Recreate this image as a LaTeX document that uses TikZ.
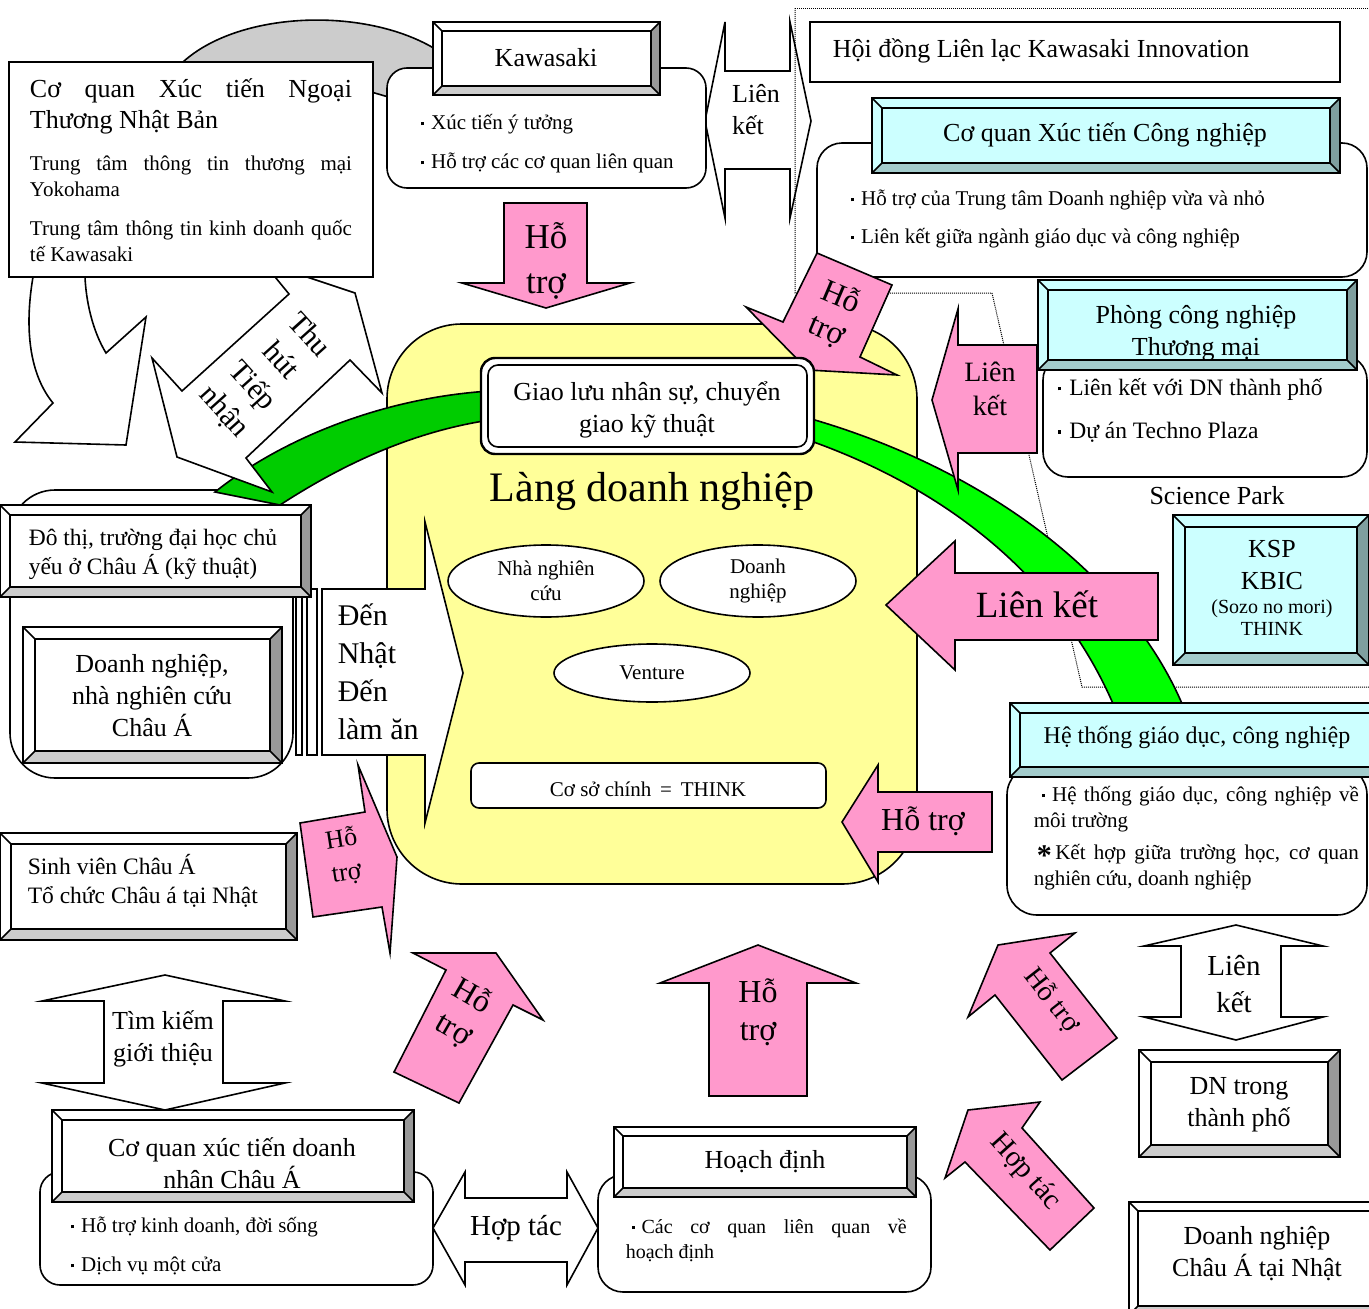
\documentclass[tikz,border=0pt]{standalone}
\usepackage{fontspec}
\setmainfont{Liberation Serif}
\usepackage{xcolor}
\usepackage{tikz}
\usetikzlibrary{shapes.geometric, positioning}

\definecolor{pinkfill}{HTML}{FF99CC}
\definecolor{yellowfill}{HTML}{FFFF99}
\definecolor{crescent}{HTML}{CCCCCC}
\definecolor{greendark}{HTML}{00CC00}
\definecolor{greenlight}{HTML}{00FF00}
\definecolor{wface}{HTML}{FFFFFF}
\definecolor{wtop}{HTML}{FFFFFF}
\definecolor{wleft}{HTML}{FFFFFF}
\definecolor{wright}{HTML}{999999}
\definecolor{wbot}{HTML}{CCCCCC}
\definecolor{cface}{HTML}{CCFFFF}
\definecolor{ctop}{HTML}{CCFFFF}
\definecolor{cleft}{HTML}{CCFFFF}
\definecolor{cright}{HTML}{7F9F9F}
\definecolor{cbot}{HTML}{A3CCCC}

\hyphenpenalty=10000
\tolerance=10000

\newcommand{\bul}{\rule[0.2em]{0.14em}{0.14em}\hspace{0.35em}}
\newcommand{\bigast}{\raisebox{-0.28em}{\fontsize{30}{30}\selectfont\bfseries *}}
% framed box with bevelled edges: x1, y1, x2, y2, depth, colour set
\newcommand{\bevelbox}[6]{%
  \fill[#6top] (#1,#2) -- (#3,#2) -- (#3-#5,#2+#5) -- (#1+#5,#2+#5) -- cycle;
  \fill[#6left] (#1,#2) -- (#1+#5,#2+#5) -- (#1+#5,#4-#5) -- (#1,#4) -- cycle;
  \fill[#6right] (#3,#2) -- (#3-#5,#2+#5) -- (#3-#5,#4-#5) -- (#3,#4) -- cycle;
  \fill[#6bot] (#1,#4) -- (#1+#5,#4-#5) -- (#3-#5,#4-#5) -- (#3,#4) -- cycle;
  \filldraw[fill=#6face] (#1+#5,#2+#5) rectangle (#3-#5,#4-#5);
  \draw (#1,#2) rectangle (#3,#4)
        (#1,#2) -- (#1+#5,#2+#5) (#3,#2) -- (#3-#5,#2+#5)
        (#1,#4) -- (#1+#5,#4-#5) (#3,#4) -- (#3-#5,#4-#5);
}

\begin{document}
\begin{tikzpicture}[x=1pt, y=-1pt, line width=1.6pt, every node/.style={inner sep=0pt}]
    \tikzset{fsz/.style args={#1/#2}{font=\fontsize{#1}{#2}\selectfont}}
    \tikzstyle{pinkarrow} = [draw, fill=pinkfill]
    \tikzstyle{whitearrow} = [draw, fill=white]
    \tikzstyle{roundbox} = [draw, fill=white, rounded corners=20]
    \tikzstyle{oval} = [ellipse, draw, fill=white, minimum width=196, align=center, fsz=21/25]

    \useasboundingbox (0,0) rectangle (1369,1309);

    % background
    \filldraw[fill=crescent] (183,62) .. controls (240,10) and (370,6) .. (440,52) -- (440,112) -- (330,80) -- cycle;
    \filldraw[fill=yellowfill, rounded corners=75] (387,324) rectangle (917,884);
    \draw[whitearrow] (705,121) -- (725,22) -- (725,71) -- (790,71) -- (790,22) -- (811,121)
        -- (790,218) -- (790,169) -- (725,169) -- (725,218) -- cycle;
    \draw[densely dotted, line width=1pt] (795,8) -- (1369,8);
    \draw[densely dotted, line width=1pt] (795,8) -- (795,293) -- (992,293) -- (1082,687) -- (1369,687);
    \draw[fill=white, rounded corners=45] (10,490) rectangle (293,778);

    % green bands
    \filldraw[fill=greendark] (490,391) .. controls (380,398) and (280,440) .. (215,492) -- (280,505)
        .. controls (340,466) and (410,432) .. (490,420) -- cycle;
    \filldraw[fill=greenlight] (808,418) .. controls (990,470) and (1130,580) .. (1183,706) -- (1114,706)
        .. controls (1060,580) and (950,490) .. (808,440) -- cycle;

    % white arrows at the top left
    \draw[whitearrow] (271,272) -- (289,294) -- (182,391) -- (152,358) -- (177,457) -- (272,492) -- (246,458)
        -- (350,360) -- (382,393) -- (355,293) -- (292,272) -- cycle;
    \node[fsz=30/38, align=center, rotate=-48] (attract) at (266,374) {Thu\\hút\\Tiếp\\nhận};
    \draw[whitearrow] (33,270) -- (33,277) .. controls (24,330) and (30,375) .. (53,403) -- (15,442) -- (126,445)
        -- (146,317) -- (106,353) .. controls (92,330) and (86,300) .. (85,277) -- (85,270) -- cycle;

    % Japan external trade
    \draw[fill=white] (9,62) rectangle (373,277);
    \node[fsz=26/31, text width=322, align=justify] (jetro) at (191,106) {Cơ quan Xúc tiến Ngoại\linebreak Thương Nhật Bản};
    \node[fsz=21/26, text width=322, align=justify] (yokohama) at (191,176) {Trung tâm thông tin thương mại\linebreak Yokohama};
    \node[fsz=21/26, text width=322, align=justify] (kibc) at (191,241) {Trung tâm thông tin kinh doanh quốc\linebreak tế Kawasaki};

    % Kawasaki
    \draw[roundbox] (387,68) rectangle (706,188);
    \bevelbox{433}{22}{660}{95}{9}{w}
    \node[fsz=26/32] (kawasaki) at (546,58) {Kawasaki};
    \node[fsz=21/26, anchor=west] (idea) at (420,124) {\bul Xúc tiến ý tưởng};
    \node[fsz=21/26, anchor=west] (related) at (420,163) {\bul Hỗ trợ các cơ quan liên quan};
    \node[fsz=26/32, align=left] (link1) at (756,110) {Liên\\kết};

    % council and industrial promotion
    \draw[fill=white] (810,22) rectangle (1340,82);
    \node[fsz=26/32, anchor=west] (council) at (832,51) {Hội đồng Liên lạc Kawasaki Innovation};
    \draw[roundbox, rounded corners=25] (817,143) rectangle (1367,277);
    \bevelbox{872}{98}{1340}{173}{10}{c}
    \node[fsz=26/32] (indus) at (1105,135) {Cơ quan Xúc tiến Công nghiệp};
    \node[fsz=21/26, anchor=west] (sme) at (850,200) {\bul Hỗ trợ của Trung tâm Doanh nghiệp vừa và nhỏ};
    \node[fsz=21/26, anchor=west] (eduind) at (850,238) {\bul Liên kết giữa ngành giáo dục và công nghiệp};

    % support arrows round the village
    \draw[pinkarrow] (504,203) -- (587,203) -- (587,283) -- (630,283) -- (546,308) -- (462,283) -- (504,283) -- cycle;
    \node[fsz=35/45, align=center] (help0) at (546,261) {Hỗ\\trợ};
    \draw[pinkarrow] (746,307) -- (783,322) -- (817,253) -- (892,285) -- (860,357) -- (897,375) -- (808,370) -- cycle;
    \node[fsz=32/36, align=center, rotate=-23] (help1) at (834,314) {Hỗ\\trợ};

    % business village
    \draw[fill=white, rounded corners=14, line width=2.4pt] (481,358) rectangle (814,454);
    \draw[rounded corners=10] (488,365) rectangle (807,447);
    \node[fsz=26/32, align=center] (exchange) at (647,410) {Giao lưu nhân sự, chuyển\\giao kỹ thuật};
    \node[fsz=42/50] (village) at (652,491) {Làng doanh nghiệp};
    \node[oval, minimum height=72] (researcher) at (546,581) {Nhà nghiên\\cứu};
    \node[oval, minimum height=72] (enterprise) at (758,581) {Doanh\\nghiệp};
    \node[oval, minimum height=58] (venture) at (652,673) {Venture};
    \draw[roundbox, rounded corners=8] (471,763) rectangle (826,808);
    \node[fsz=21/26] (think) at (648,789) {Cơ sở chính \,=\, THINK};

    % right side
    \draw[pinkarrow] (1158,573) -- (955,573) -- (955,541) -- (886,605) -- (955,670) -- (955,640) -- (1158,640) -- cycle;
    \node[fsz=37/44] (link3) at (1037,604) {Liên kết};
    \draw[pinkarrow] (1037,345) -- (958,345) -- (958,309) -- (932,400) -- (958,490) -- (958,453) -- (1037,453) -- cycle;
    \node[fsz=28/34, align=center] (link2) at (990,389) {Liên\\kết};
    \draw[pinkarrow] (992,792) -- (878,792) -- (878,765) -- (842,822) -- (878,882) -- (878,852) -- (992,852) -- cycle;
    \node[fsz=32/38] (help2) at (923,821) {Hỗ trợ};

    \draw[roundbox, rounded corners=25] (1043,355) rectangle (1367,477);
    \bevelbox{1038}{280}{1357}{370}{10}{c}
    \node[fsz=26/32, align=center] (chamber) at (1196,333) {Phòng công nghiệp\\Thương mại};
    \node[fsz=23.5/29, anchor=west] (citylink) at (1057,389) {\bul Liên kết với DN thành phố};
    \node[fsz=23.5/29, anchor=west] (plaza) at (1057,432) {\bul Dự án Techno Plaza};

    \node[fsz=26/32] (sciencepark) at (1217,496) {Science Park};
    \bevelbox{1173}{515}{1369}{665}{12}{c}
    \node[fsz=26/32, align=center] (ksp) at (1272,565) {KSP\\KBIC};
    \node[fsz=20/22, align=center] (sozo) at (1272,618) {(Sozo no mori)\\THINK};

    \draw[roundbox, rounded corners=30] (1007,765) rectangle (1367,915);
    \bevelbox{1010}{703}{1380}{777}{10}{c}
    \node[fsz=24/30] (edusys) at (1197,737) {Hệ thống giáo dục, công nghiệp};
    \node[fsz=21/26, text width=325, align=justify, anchor=west] (envsys) at (1033,809)
        {\hspace*{8pt}\bul Hệ thống giáo dục, công nghiệp về\linebreak môi trường};
    \node[fsz=21/26, text width=325, align=justify, anchor=west] (collab) at (1033,867)
        {\hspace*{3pt}\bigast\,Kết hợp giữa trường học, cơ quan\linebreak nghiên cứu, doanh nghiệp};

    % left side
    \draw[fill=white, line width=1.2pt] (296,589) rectangle (302,755);
    \draw[fill=white, line width=1.2pt] (307,589) rectangle (317,755);
    \draw[whitearrow] (322,589) -- (425,589) -- (425,522) -- (463,673) -- (425,823) -- (425,755) -- (322,755) -- cycle;
    \node[fsz=30/38, align=left, anchor=west] (tojapan) at (337,672) {Đến\\Nhật\\Đến\\làm ăn};
    \bevelbox{0}{505}{311}{597}{10}{w}
    \node[fsz=23.5/29, align=left, anchor=west] (cities) at (28,554) {Đô thị, trường đại học chủ\\yếu ở Châu Á (kỹ thuật)};
    \bevelbox{23}{627}{282}{763}{12}{w}
    \node[fsz=26/32, align=center] (asiafirm) at (152,696) {Doanh nghiệp,\\nhà nghiên cứu\\Châu Á};
    \draw[pinkarrow] (300,823) -- (365,812) -- (358,765) -- (397,857) -- (390,953) -- (382,907) -- (313,917) -- cycle;
    \node[fsz=26/34, align=center, rotate=9] (help3) at (344,856) {Hỗ\\trợ};
    \bevelbox{0}{833}{297}{940}{11}{w}
    \node[fsz=23.5/29, align=left, anchor=west] (students) at (27,881) {Sinh viên Châu Á\\Tổ chức Châu á tại Nhật};

    % bottom
    \draw[pinkarrow] (413,953) -- (496,953) -- (543,1020) -- (513,1005) -- (459,1103) -- (394,1072) -- (446,970) -- cycle;
    \node[fsz=32/38, align=center, rotate=-30] (help4) at (463,1013) {Hỗ\\trợ};
    \draw[pinkarrow] (758,945) -- (856,983) -- (807,983) -- (807,1096) -- (709,1096) -- (709,983) -- (660,983) -- cycle;
    \node[fsz=32/38, align=center] (help5) at (758,1012) {Hỗ\\trợ};
    \draw[pinkarrow] (968,1017) -- (998,945) -- (1075,933) -- (1050,953) -- (1117,1038) -- (1062,1080) -- (995,995) -- cycle;
    \node[fsz=28/32, rotate=-52] (help6) at (1052,1000) {Hỗ trợ};
    \draw[pinkarrow] (968,1110) -- (1040,1102) -- (1022,1128) -- (1094,1208) -- (1050,1250) -- (965,1162) -- (945,1178) -- cycle;
    \node[fsz=29/34, rotate=-48] (coop2) at (1025,1172) {Hợp tác};

    \draw[whitearrow] (1236,925) -- (1323,946) -- (1281,946) -- (1281,1017) -- (1323,1017) -- (1236,1040)
        -- (1144,1017) -- (1181,1017) -- (1181,946) -- (1144,946) -- cycle;
    \node[fsz=29/37, align=center] (link4) at (1234,984) {Liên\\kết};
    \bevelbox{1139}{1050}{1340}{1157}{12}{w}
    \node[fsz=26/32, align=center] (cityfirm) at (1239,1105) {DN trong\\thành phố};
    \bevelbox{1129}{1202}{1385}{1315}{9}{w}
    \node[fsz=26/32, align=center] (asiajp) at (1257,1254) {Doanh nghiệp\\Châu Á tại Nhật};

    \draw[whitearrow] (165,975) -- (285,1001) -- (223,1001) -- (223,1083) -- (285,1083) -- (165,1110)
        -- (42,1083) -- (104,1083) -- (104,1001) -- (42,1001) -- cycle;
    \node[fsz=26/32, align=center] (search) at (163,1039) {Tìm kiếm\\giới thiệu};
    \draw[roundbox] (40,1172) rectangle (433,1285);
    \bevelbox{52}{1110}{414}{1202}{10}{w}
    \node[fsz=26/32, align=center] (bizpromo) at (232,1163) {Cơ quan xúc tiến doanh\\nhân Châu Á};
    \node[fsz=21/26, anchor=west] (life) at (70,1227) {\bul Hỗ trợ kinh doanh, đời sống};
    \node[fsz=21/26, anchor=west] (onestop) at (70,1266) {\bul Dịch vụ một cửa};

    \draw[whitearrow] (433,1228) -- (465,1172) -- (465,1198) -- (567,1198) -- (567,1172) -- (598,1228)
        -- (567,1285) -- (567,1262) -- (465,1262) -- (465,1285) -- cycle;
    \node[fsz=29/34] (coop1) at (516,1228) {Hợp tác};
    \draw[roundbox, rounded corners=25] (598,1175) rectangle (931,1292);
    \bevelbox{614}{1127}{916}{1197}{9}{w}
    \node[fsz=26/32] (planning) at (765,1162) {Hoạch định};
    \node[fsz=20/25, text width=281, align=justify, anchor=west] (planorg) at (625,1240)
        {\hspace*{6pt}\bul Các cơ quan liên quan về\linebreak hoạch định};
\end{tikzpicture}
\end{document}
